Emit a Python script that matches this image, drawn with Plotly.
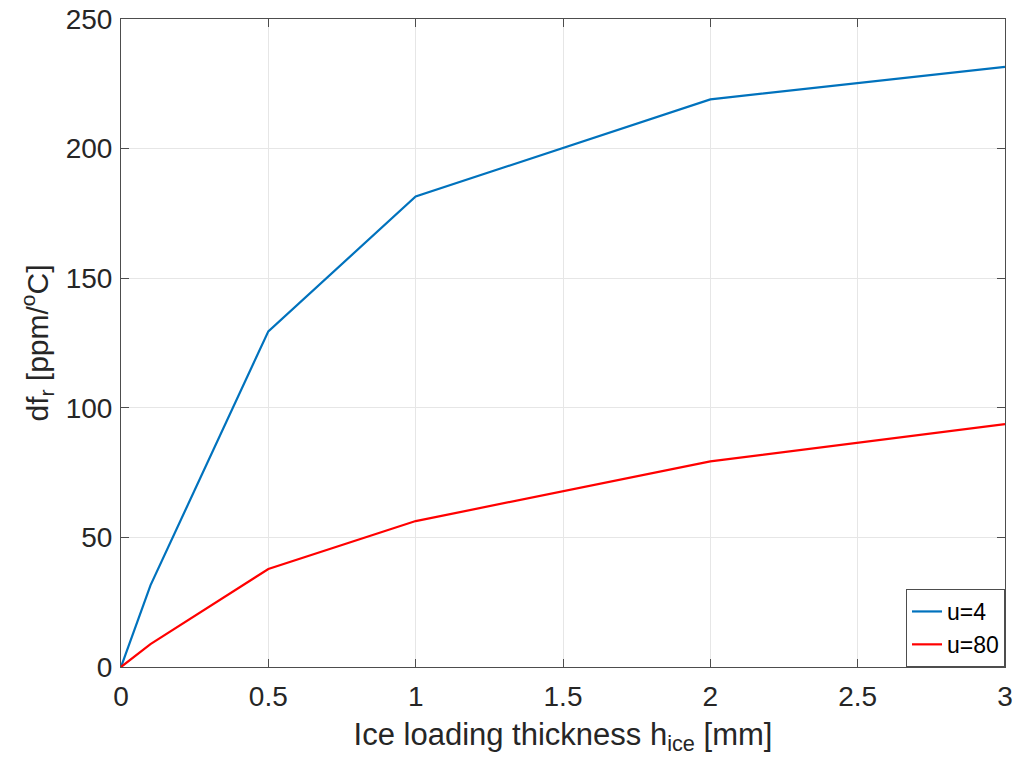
import plotly.graph_objects as go

# Ice loading thickness (mm)
h_ice = [0, 0.1, 0.5, 1, 2, 3]
# Frequency sensitivity df_r (ppm/°C)
df_u4 = [0, 31.5, 129.5, 181.5, 219, 231.5]
df_u80 = [0, 8.8, 37.8, 56.3, 79.3, 93.7]
series_names = ["u=4", "u=80"]
x_ticks = [0, 0.5, 1, 1.5, 2, 2.5, 3]
x_tick_text = ["0", "0.5", "1", "1.5", "2", "2.5", "3"]
y_ticks = [0, 50, 100, 150, 200, 250]

font_family = "Liberation Sans, Arial, sans-serif"
axis_color = "#4d4d4d"
text_color = "#262626"

fig = go.Figure()
fig.add_trace(go.Scatter(x=h_ice, y=df_u4, mode="lines", name=series_names[0],
                         line=dict(color="#0072BD", width=2.2)))
fig.add_trace(go.Scatter(x=h_ice, y=df_u80, mode="lines", name=series_names[1],
                         line=dict(color="#FF0000", width=2.2)))

axis_common = dict(
    showline=True, linecolor=axis_color, linewidth=1, mirror="ticks",
    ticks="inside", ticklen=8, tickwidth=1, tickcolor=axis_color,
    showgrid=True, gridcolor="#e6e6e6", gridwidth=1, zeroline=False,
    automargin=False,
    tickfont=dict(family=font_family, size=28, color=text_color),
)

fig.update_xaxes(range=[0, 3], tickvals=x_ticks, ticktext=x_tick_text,
                 ticklabelstandoff=4,
                 title=dict(text="Ice loading thickness h<sub>ice</sub> [mm]",
                            font=dict(family=font_family, size=31, color=text_color),
                            standoff=12),
                 **axis_common)
fig.update_yaxes(range=[0, 250], tickvals=y_ticks, ticklabelstandoff=2,
                 title=dict(text="df<sub>r</sub> [ppm/<sup>o</sup>C]",
                            font=dict(family=font_family, size=30, color=text_color),
                            standoff=8),
                 **axis_common)

fig.update_layout(
    width=1015, height=761,
    margin=dict(l=121, r=10, t=19, b=94),
    paper_bgcolor="white", plot_bgcolor="white",
    showlegend=True,
    legend=dict(x=1, y=0, xanchor="right", yanchor="bottom",
                bgcolor="white", bordercolor=axis_color, borderwidth=1,
                font=dict(family=font_family, size=23, color="#000000"),
                tracegroupgap=0, itemwidth=30),
)

fig.write_html("out.html")
